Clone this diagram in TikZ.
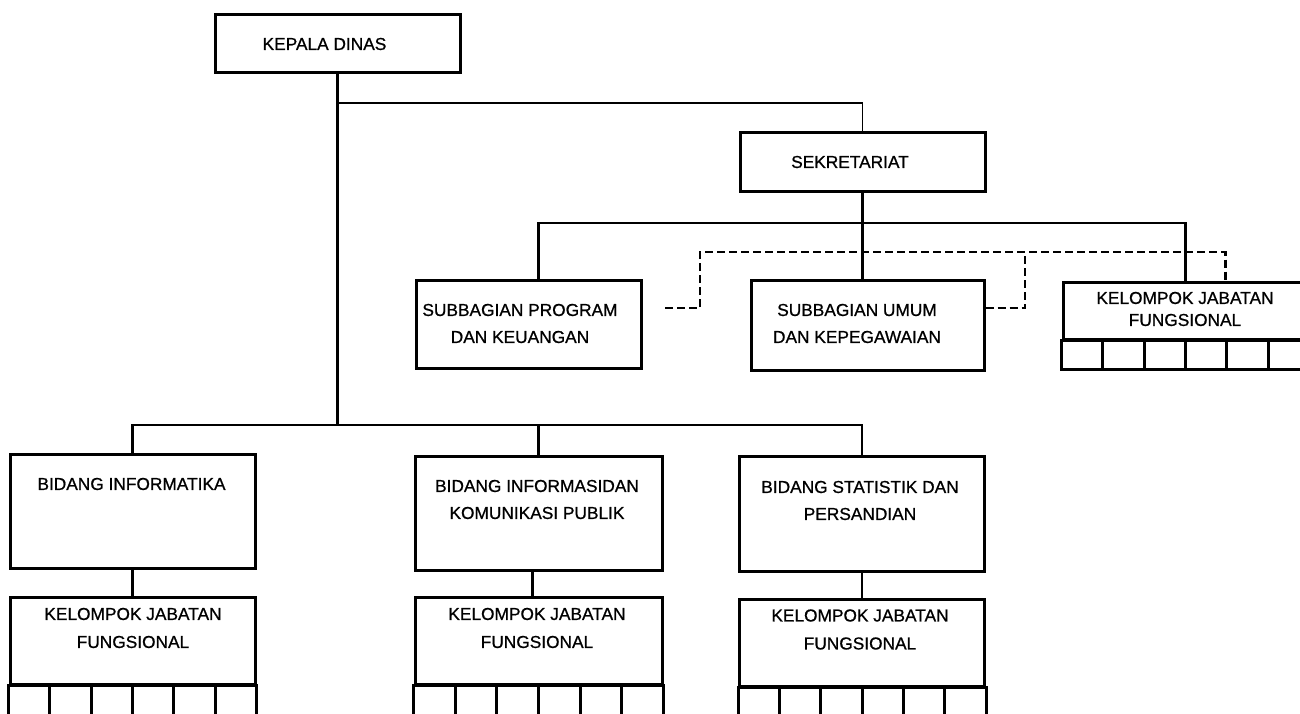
\documentclass[tikz,border=0pt]{standalone}
\usepackage{fontspec}
\setmainfont{Liberation Sans}[FakeBold=0.8]
\usepackage{tikz}
\usetikzlibrary{calc}
\tikzset{
  unitbox/.style={draw, line width=3pt, inner sep=0pt},
  lbl/.style={font=\fontsize{17.3}{27}\selectfont, align=center, inner sep=0pt},
  link/.style={line width=2.7pt},
  thinlink/.style={line width=1.4pt},
  dashlink/.style={line width=2.4pt, dash pattern=on 8pt off 4pt}
}

\begin{document}
\begin{tikzpicture}[x=1pt,y=-1pt]
      \useasboundingbox (0,0) rectangle (1300,714);
      \clip (0,0) rectangle (1300,714);
      \node[unitbox, minimum width=245pt, minimum height=58pt] (kadis) at (337.5,44) {};
      \node[unitbox, minimum width=245pt, minimum height=59pt] (sekr) at (862.5,162.5) {};
      \node[unitbox, minimum width=225pt, minimum height=88pt] (sprog) at (528.5,324) {};
      \node[unitbox, minimum width=233pt, minimum height=90pt] (sumum) at (867.5,325) {};
      \node[unitbox, minimum width=245pt, minimum height=57pt] (kjfs) at (1185.5,310.5) {};
      \node[unitbox, minimum width=245pt, minimum height=114pt] (bi) at (132.5,511) {};
      \node[unitbox, minimum width=247pt, minimum height=114pt] (bikp) at (538.5,513) {};
      \node[unitbox, minimum width=245pt, minimum height=115pt] (bsp) at (862,513.5) {};
      \node[unitbox, minimum width=245pt, minimum height=87pt] (kjf1) at (132.5,640.5) {};
      \node[unitbox, minimum width=247pt, minimum height=87pt] (kjf2) at (538.5,640.5) {};
      \node[unitbox, minimum width=245pt, minimum height=87pt] (kjf3) at (862,642.5) {};
      \foreach \n/\h in {kjf1/40,kjf2/40,kjf3/40,kjfs/29} {
        \draw[unitbox] (\n.south west) rectangle ($(\n.south east)+(0,\h)$);
        \foreach \i in {1,...,5}
          \draw[unitbox] ($(\n.south west)!\i/6!(\n.south east)$) -- ++(0,\h);
      }
      \node[lbl] (kadis-t) at (324.5,44) {KEPALA DINAS};
      \node[lbl] (sekr-t) at (850,162) {SEKRETARIAT};
      \node[lbl] (sprog-t) at (520,323.5) {SUBBAGIAN PROGRAM\\DAN KEUANGAN};
      \node[lbl] (sumum-t) at (857,323.5) {SUBBAGIAN UMUM\\DAN KEPEGAWAIAN};
      \node[lbl, font=\fontsize{17.3}{22}\selectfont] (kjfs-t) at (1185,309) {KELOMPOK JABATAN\\FUNGSIONAL};
      \node[lbl] (bi-t) at (131.5,484) {BIDANG INFORMATIKA};
      \node[lbl] (bikp-t) at (537,499.5) {BIDANG INFORMASIDAN\\KOMUNIKASI PUBLIK};
      \node[lbl] (bsp-t) at (860,500.5) {BIDANG STATISTIK DAN\\PERSANDIAN};
      \node[lbl, font=\fontsize{17.3}{28}\selectfont] (kjf1-t) at (133,628) {KELOMPOK JABATAN\\FUNGSIONAL};
      \node[lbl, font=\fontsize{17.3}{28}\selectfont] (kjf2-t) at (537,628) {KELOMPOK JABATAN\\FUNGSIONAL};
      \node[lbl, font=\fontsize{17.3}{28}\selectfont] (kjf3-t) at (860,629.5) {KELOMPOK JABATAN\\FUNGSIONAL};
      \coordinate (jA) at (337.5,103);
      \coordinate (jB) at (337.5,425);
      \coordinate (jC) at (862.5,223);
      \coordinate (dA) at (665,308);
      \draw[link] (kadis.south) -- (jB);
      \draw[thinlink] (jA) -| (sekr.north);
      \draw[link] (bi.north) |- (jB) -| (bsp.north);
      \draw[link] (bikp.north) -- (bikp.north |- jB);
      \draw[link] (bi.south) -- (kjf1.north);
      \draw[link] ([xshift=-6pt]bikp.south) -- ([xshift=-6pt]kjf2.north);
      \draw[link] (bsp.south) -- (kjf3.north);
      \draw[link] (sekr.south) -- (sekr.south |- sumum.north);
      \draw[link] ([xshift=10pt]sprog.north) |- (jC) -| (kjfs.north);
      \draw[dashlink] (dA) -| (700,252) -| ([xshift=40pt]kjfs.north);
      \draw[dashlink] (sumum.east |- dA) -| (1025,252);
    \end{tikzpicture}
\end{document}
